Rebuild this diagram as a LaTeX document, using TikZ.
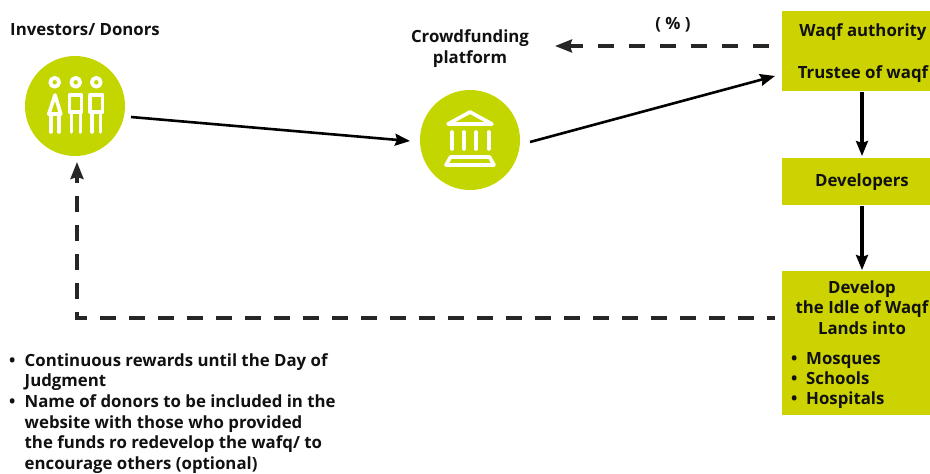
\documentclass[tikz,border=0pt]{standalone}
\usepackage{fontspec}
\setmainfont{Open Sans}
\usetikzlibrary{arrows.meta}
\definecolor{lime}{HTML}{C4D600}
\definecolor{boxlime}{HTML}{CCD300}
\definecolor{ink}{HTML}{111111}
\tikzset{
  every node/.style={font=\bfseries\fontsize{16.8pt}{20.6pt}\selectfont,text=ink,inner sep=0pt},
  disc/.style={circle,fill=lime,minimum size=100pt},
  panel/.style={fill=boxlime,minimum width=148pt,anchor=north west},
  flow/.style={line width=2.6pt,-{Stealth[length=15pt,width=12pt,inset=2pt]},black},
  upright/.style={flow,line width=3.05pt},
  back/.style={line width=3.05pt,draw=black!85,-{Stealth[length=17pt,width=13pt,inset=2pt]}},
  icon/.style={draw=white,line width=3.6pt,line join=round,line cap=round}
}
\begin{document}
\begin{tikzpicture}[x=1pt,y=-1pt]
\useasboundingbox[fill=white] (0,0) rectangle (930,474);
\node (inv) [disc] at (75,106) {};
\node (plat) [disc] at (470,140) {};
\node (invl) [anchor=base west] at (10,35) {Investors/ Donors};
\node (platc) [anchor=base] at (470,42) {Crowdfunding};
\node (platp) [anchor=base] at (470,63) {platform};
\node (pct) [anchor=base] at (673,29) {( \% )};
\node (waqf) [panel,minimum height=80pt] at (782,11) {};
\node (waqfa) [anchor=base] at (863,36) {Waqf authority};
\node (waqft) [anchor=base] at (863,78) {Trustee of waqf};
\node (dev) [panel,minimum height=47pt] at (782,158) {};
\node (devl) [anchor=base] at (862,186) {Developers};
\node (land) [panel,minimum height=144pt] at (782,271) {};
\node (landa) [anchor=base] at (862,293) {Develop};
\node (landc) [anchor=base] at (862,313) {the Idle of Waqf};
\node (lande) [anchor=base] at (862,334) {Lands into};
\node (landm) [anchor=base west] at (791,364) {\makebox[15pt][l]{•}Mosques};
\node (lands) [anchor=base west] at (791,384) {\makebox[15pt][l]{•}Schools};
\node (landh) [anchor=base west] at (791,404) {\makebox[15pt][l]{•}Hospitals};
\node (n1) [anchor=base west] at (9,366) {\makebox[15.5pt][l]{•}Continuous rewards until the Day of};
\node (n2) [anchor=base west] at (24.5,386) {Judgment};
\node (n3) [anchor=base west] at (9,407) {\makebox[15.5pt][l]{•}Name of donors to be included in the};
\node (n4) [anchor=base west] at (24.5,428) {website with those who provided};
\node (n5) [anchor=base west] at (24.5,448) {the funds ro redevelop the wafq/ to};
\node (n6) [anchor=base west] at (24.5,469) {encourage others (optional)};
% connector ends
\coordinate (a1) at (131,117); \coordinate (a2) at (410,141);
\coordinate (b1) at (530,142); \coordinate (b2) at (775,76);
\coordinate (c1) at (769,46); \coordinate (c2) at (555,46);
\coordinate (d1) at (775,318); \coordinate (d2) at (77,318); \coordinate (d3) at (77,162);
\coordinate (e1) at (862,92); \coordinate (e2) at (862,156);
\coordinate (f1) at (862,206); \coordinate (f2) at (862,270);
\draw[flow] (a1) -- (a2);
\draw[flow] (b1) -- (b2);
\draw[back,dash pattern=on 16pt off 15pt] (c1) -- (c2);
\draw[back,dash pattern=on 15.5pt off 13.5pt,dash phase=7.5pt] (d1) -- (d2) -- (d3);
\draw[upright] (e1) -- (e2);
\draw[upright] (f1) -- (f2);
% people icon
\foreach \hx in {54.7,75.7,96.3}{\draw[icon,line width=3.8pt] (\hx,82.3) circle (4.4pt);}
\draw[icon] (55,95) -- (60.8,114) -- (48.8,114) -- cycle;
\draw[icon] (50.7,116) -- (50.7,132); \draw[icon] (59,116) -- (59,132);
\draw[icon] (69.6,95) rectangle (81.4,112);
\draw[icon] (71.5,113) -- (71.5,132); \draw[icon] (80.3,113) -- (80.3,132);
\draw[icon] (90.2,95) rectangle (102.4,112);
\draw[icon] (92,113) -- (92,132); \draw[icon] (100.5,113) -- (100.5,132);
% bank icon
\draw[icon] (448,124) -- (470,112) -- (492,124) -- cycle;
\foreach \cx in {451.7,464,476,488.7}{\draw[icon] (\cx,132) -- (\cx,149);}
\draw[icon] (450.5,157) -- (489.5,157) -- (494,165) -- (446,165) -- cycle;
\end{tikzpicture}
\end{document}
